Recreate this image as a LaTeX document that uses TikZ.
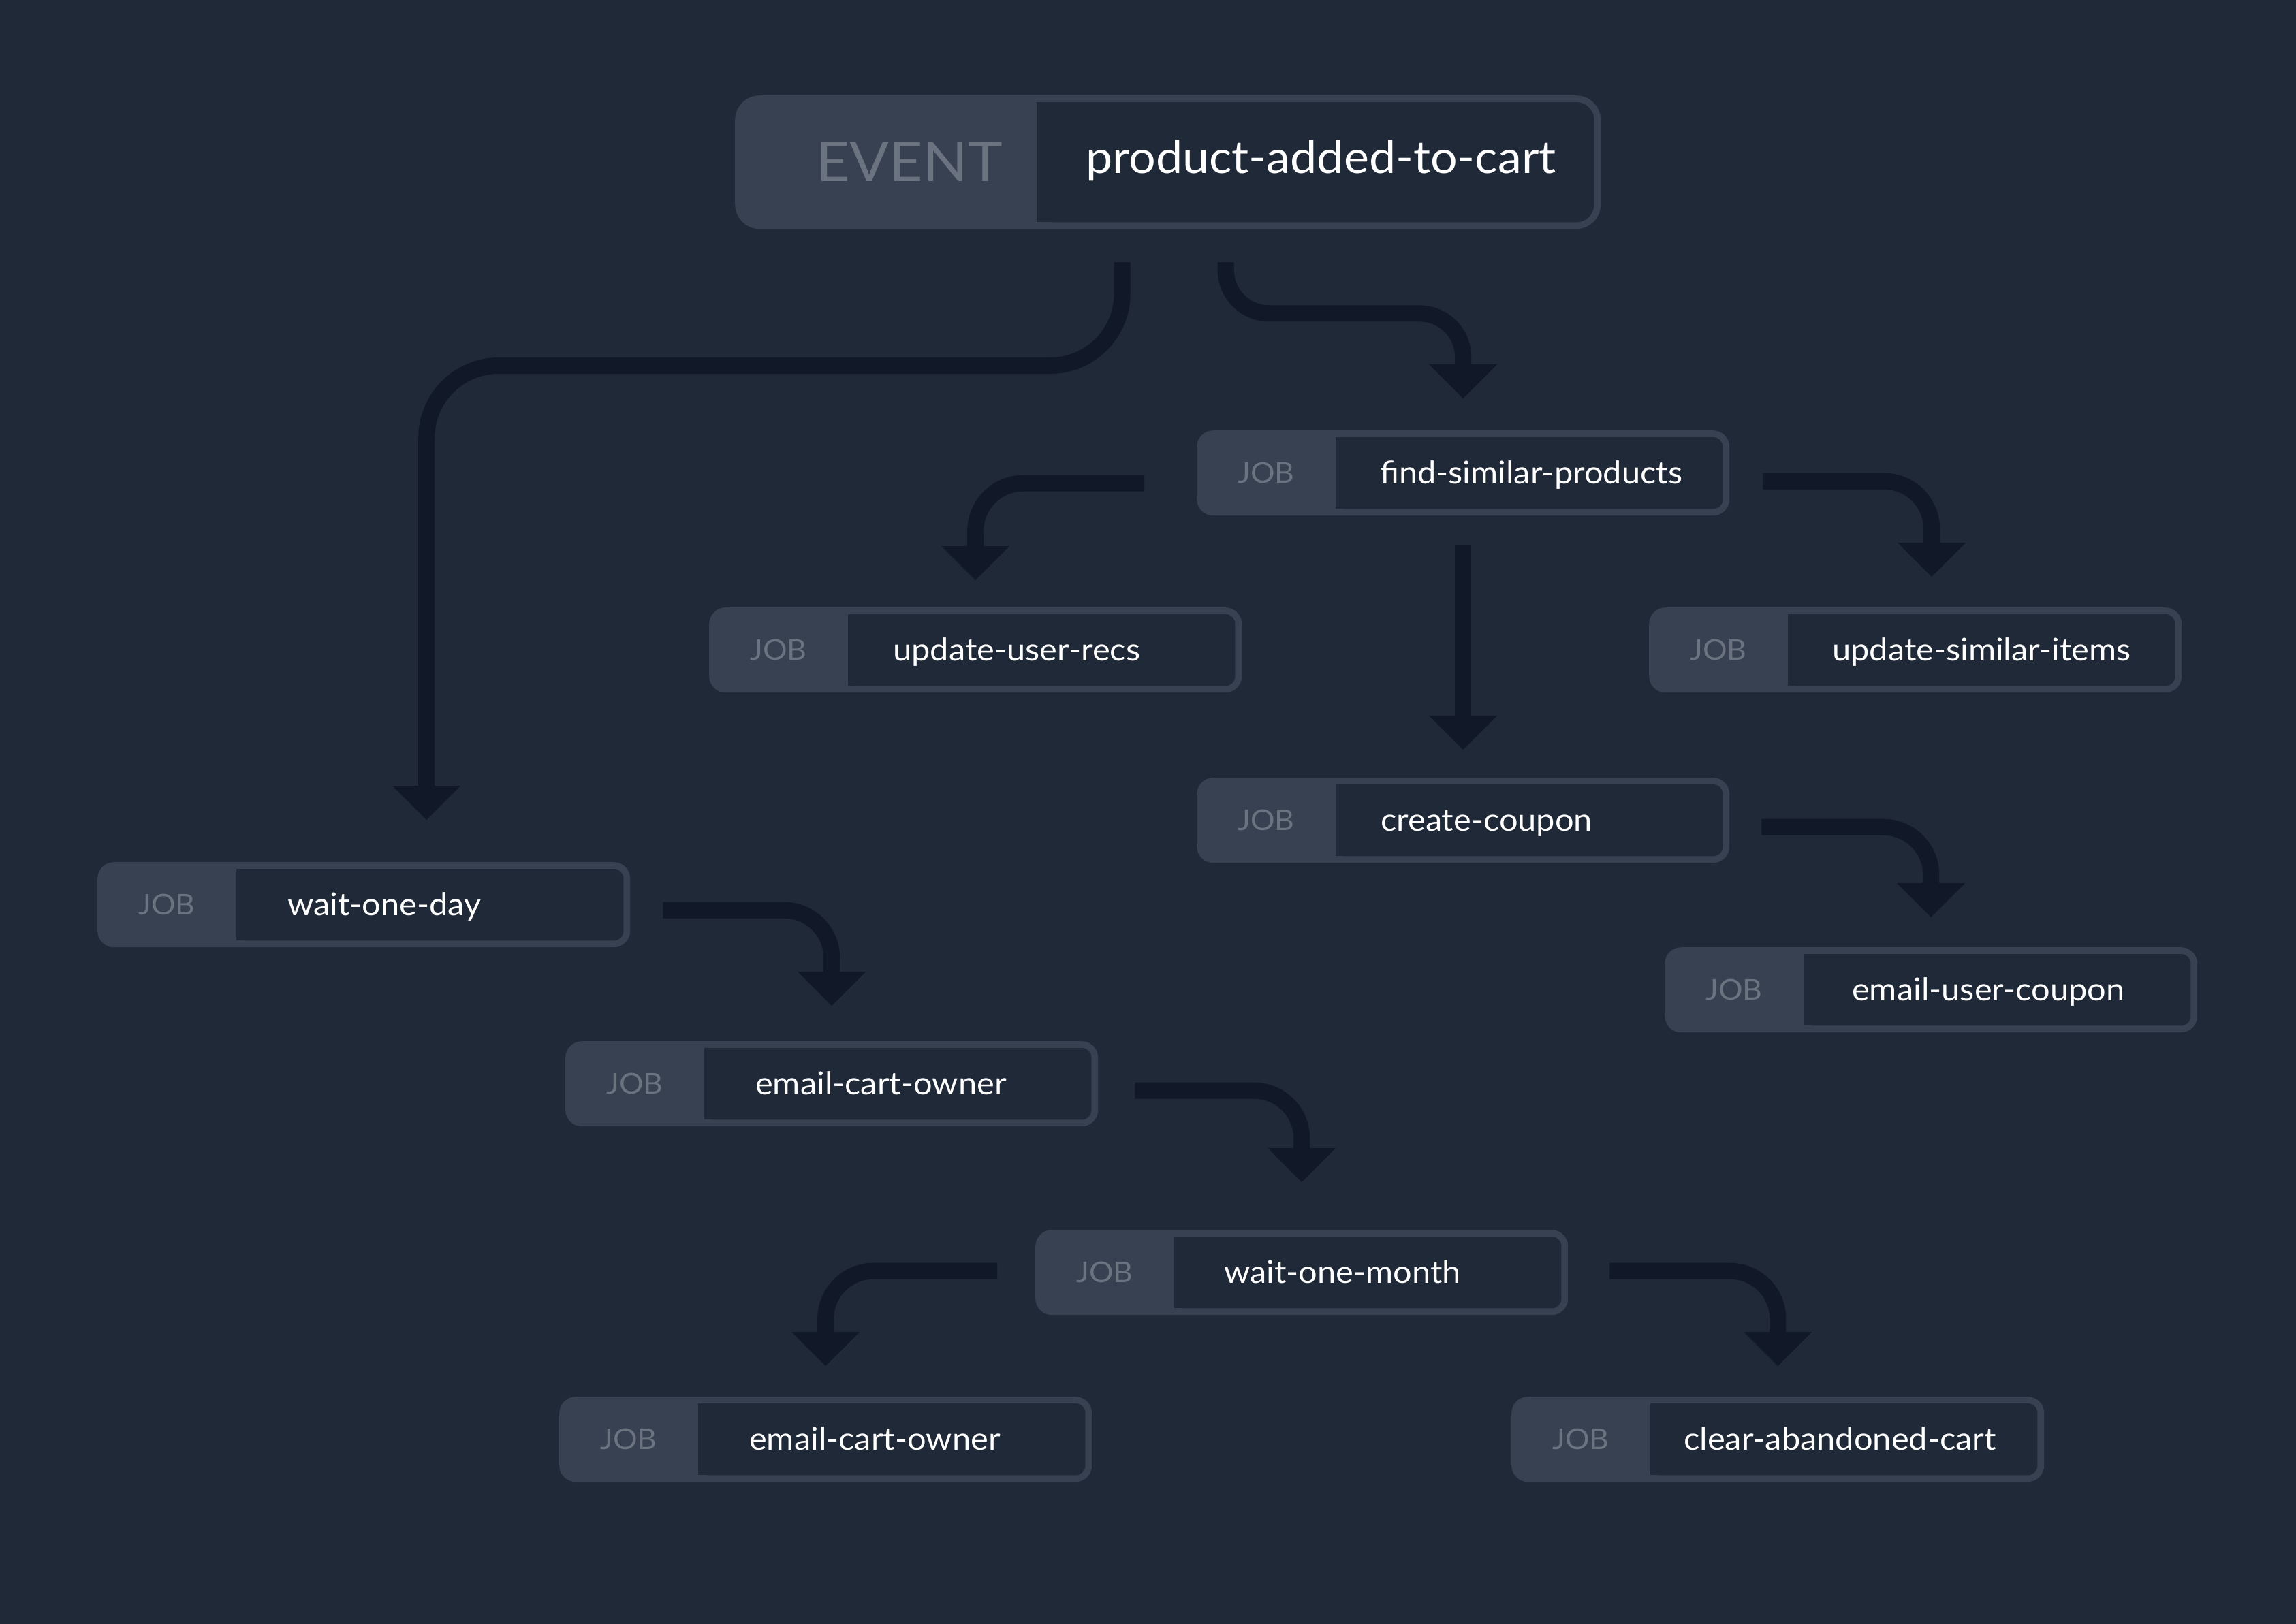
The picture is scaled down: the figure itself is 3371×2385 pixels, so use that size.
\documentclass[tikz,border=0pt]{standalone}
\usepackage{fontspec}
\setmainfont{Lato}[FakeStretch=1.06]
\usetikzlibrary{arrows.meta,calc,positioning}

\definecolor{canvas}{HTML}{1F2937}
\definecolor{slot}{HTML}{374151}
\definecolor{muted}{HTML}{6B7280}
\definecolor{wire}{HTML}{111827}

\tikzset{
  jobbox/.style={rectangle,rounded corners=24pt,fill=slot,minimum width=782pt,minimum height=125pt,inner sep=0pt,anchor=north west},
  jobtag/.style={font=\fontsize{42}{50}\selectfont,text=muted,inner sep=0pt,anchor=base},
  jobname/.style={font=\fontsize{46}{55}\selectfont,text=white,inner sep=0pt,anchor=base west},
  flow/.style={draw=wire,line width=24pt,rounded corners=70pt,-{Triangle[width=100pt,length=50pt,line width=0pt]}},
}

% one job: name, top left, text offset, text
\newcommand{\job}[4]{%
  \node[jobbox] (#1) at #2 {};
  \fill[canvas,rounded corners=14pt] ($(#1.north west)+(204,10)$) rectangle ($(#1.south east)+(-10,-10)$);
  \fill[canvas] ($(#1.north west)+(204,10)$) rectangle ($(#1.south west)+(234,-10)$);
  \node[jobtag] (#1-tag) at ($(#1.north west)+(102,77)$) {JOB};
  \node[jobname] (#1-name) at ($(#1.north west)+(204+#3,78)$) {#4};
}

\begin{document}
\begin{tikzpicture}[x=1pt,y=-1pt]
  % Background
  \fill[canvas] (0,0) rectangle (3371,2385);

  \node[rectangle,rounded corners=36pt,fill=slot,minimum width=1271pt,minimum height=196pt,inner sep=0pt,anchor=north west] (ev) at (1079,140) {};
  \fill[canvas,rounded corners=26pt] ($(ev.north west)+(443,10)$) rectangle ($(ev.south east)+(-10,-10)$);
  \fill[canvas] ($(ev.north west)+(443,10)$) rectangle ($(ev.south west)+(483,-10)$);
  \node[font=\fontsize{81}{96}\selectfont,text=muted,inner sep=0pt,anchor=base] (ev-tag) at ($(ev.north west)+(256,126)$) {EVENT};
  \node[font=\fontsize{66}{80}\selectfont,text=white,inner sep=0pt,anchor=base west] (ev-name) at ($(ev.north west)+(515,114)$) {product-added-to-cart};

  \job{find}{(1757,632)}{65}{find-similar-products}
  \job{recs}{(1041,892)}{66}{update-user-recs}
  \job{simitems}{(2421,892)}{65}{update-similar-items}
  \job{coupon}{(1757,1142)}{66}{create-coupon}
  \job{day}{(143,1266)}{75}{wait-one-day}
  \job{ecoupon}{(2444,1391)}{71}{email-user-coupon}
  \job{owner}{(830,1529)}{75}{email-cart-owner}
  \job{month}{(1520,1806)}{73}{wait-one-month}
  \job{ownerb}{(821,2051)}{75}{email-cart-owner}
  \job{clear}{(2219,2051)}{49}{clear-abandoned-cart}

  \draw[flow,rounded corners=106pt] ($(ev.south)+(-67,49)$) |- ($(day.north)+(92,-729)$) -- ($(day.north)+(92,-62)$);
  \draw[flow,rounded corners=64pt] ($(ev.south)+(85,49)$) -- ++(0,75) -| ($(find.north)+(0,-47)$);
  \draw[flow] ($(find.west)+(-77,15)$) -| ($(recs.north)+(0,-40)$);
  \draw[flow] ($(find.east)+(49,12)$) -| ($(simitems.north)+(24,-45)$);
  \draw[flow] ($(find.south)+(0,43)$) -- ($(coupon.north)+(0,-41)$);
  \draw[flow] ($(coupon.east)+(47,10)$) -| ($(ecoupon.north)+(0,-44)$);
  \draw[flow] ($(day.east)+(48,8)$) -| ($(owner.north)+(0,-52)$);
  \draw[flow] ($(owner.east)+(54,10)$) -| ($(month.north)+(0,-70)$);
  \draw[flow] ($(month.west)+(-56,-2)$) -| ($(ownerb.north)+(0,-45)$);
  \draw[flow] ($(month.east)+(61,-2)$) -| ($(clear.north)+(0,-45)$);
\end{tikzpicture}
\end{document}
